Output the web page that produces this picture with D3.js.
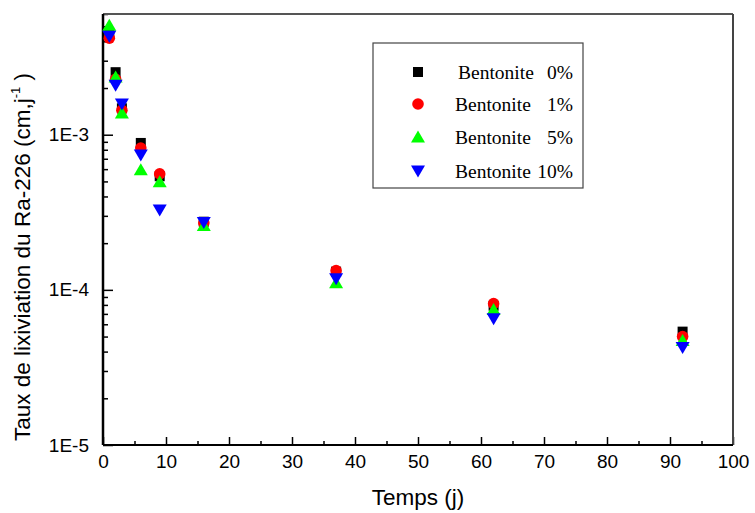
<!DOCTYPE html>
<html>
<head>
<meta charset="utf-8">
<script src="https://cdn.jsdelivr.net/npm/d3@7"></script>
<style>
  body { margin: 0; background: #fff; }
  svg { display: block; }
</style>
</head>
<body>
<script>
// sampling times (days)
const time = [1, 2, 3, 6, 9, 16, 37, 62, 92];

// leaching rate of Ra-226 (cm/j) per bentonite content
const bento0  = [4.44e-3, 2.53e-3, 1.48e-3, 8.85e-4, 5.4e-4, 2.75e-4, 1.31e-4, 7.9e-5, 5.38e-5];
const bento1  = [4.19e-3, 2.28e-3, 1.44e-3, 8.2e-4, 5.59e-4, 2.7e-4, 1.33e-4, 8.15e-5, 5.0e-5];
const bento5  = [5.07e-3, 2.35e-3, 1.38e-3, 5.93e-4, 4.96e-4, 2.6e-4, 1.11e-4, 7.46e-5, 4.71e-5];
const bento10 = [4.32e-3, 2.09e-3, 1.58e-3, 7.4e-4, 3.28e-4, 2.72e-4, 1.18e-4, 6.53e-5, 4.25e-5];

const xTicks = [0, 10, 20, 30, 40, 50, 60, 70, 80, 90, 100];
const yTicks = [1e-5, 1e-4, 1e-3];
const yTickLabels = ["1E-5", "1E-4", "1E-3"];
const legendNames = ["Bentonite", "Bentonite", "Bentonite", "Bentonite"];
const legendPct = ["0%", "1%", "5%", "10%"];

let margin = {top: 14, right: 22, bottom: 68, left: 103},
    width = 755 - margin.left - margin.right,
    height = 513 - margin.top - margin.bottom;

let svg = d3.select("body")
  .append("svg")
  .attr("width", 755)
  .attr("height", 513)
  .append("g")
  .attr("transform", "translate(" + margin.left + "," + margin.top + ")");

let x = d3.scaleLinear().domain([0, 100]).range([0, width]);
let y = d3.scaleLog().domain([1e-5, 6e-3]).range([height, 0]);

// minor ticks
let xMinor = d3.range(5, 100, 10);
let yMinor = [];
[1e-5, 1e-4, 1e-3].forEach(function(d) {
  for (let k = 2; k <= 9; k++) {
    if (d * k <= 6e-3) yMinor.push(d * k);
  }
});

svg.append("g")
  .attr("transform", "translate(0," + height + ")")
  .call(d3.axisBottom(x).tickValues(xMinor).tickSize(-4).tickFormat(""));
svg.append("g")
  .call(d3.axisLeft(y).tickValues(yMinor).tickSize(-5).tickFormat(""));

// X axis
svg.append("g")
  .attr("transform", "translate(0," + height + ")")
  .call(d3.axisBottom(x).tickValues(xTicks).tickSize(-8).tickSizeOuter(0).tickPadding(10));

// Y axis
svg.append("g")
  .call(d3.axisLeft(y).tickValues(yTicks).tickSize(-10).tickSizeOuter(0).tickPadding(14)
    .tickFormat(function(d, i) { return yTickLabels[i]; }));

svg.selectAll(".domain").remove();
svg.selectAll(".tick line").attr("stroke", "#000").attr("stroke-width", 1.5);
svg.selectAll(".tick text")
  .attr("font-family", "Liberation Sans, Arial, sans-serif")
  .attr("font-size", 19)
  .attr("fill", "#000");

// frame
svg.append("line").attr("x1", 0).attr("x2", width).attr("y1", 0).attr("y2", 0)
  .attr("stroke", "#555").attr("stroke-width", 2);
svg.append("line").attr("x1", width).attr("x2", width).attr("y1", 0).attr("y2", height)
  .attr("stroke", "#444").attr("stroke-width", 2);
svg.append("line").attr("x1", 0).attr("x2", width).attr("y1", height).attr("y2", height)
  .attr("stroke", "#000").attr("stroke-width", 2);
svg.append("line").attr("x1", 0).attr("x2", 0).attr("y1", 0).attr("y2", height)
  .attr("stroke", "#000").attr("stroke-width", 2.5);

// markers
function square(s) { return "M" + (-s/2) + "," + (-s/2) + "h" + s + "v" + s + "h" + (-s) + "Z"; }
function triUp(w, h) { return "M0," + (-h*0.55) + "L" + (w/2) + "," + (h*0.45) + "L" + (-w/2) + "," + (h*0.45) + "Z"; }
function triDown(w, h) { return "M0," + (h*0.55) + "L" + (w/2) + "," + (-h*0.45) + "L" + (-w/2) + "," + (-h*0.45) + "Z"; }

let series = [
  {values: bento0,  color: "#000000", shape: square(10)},
  {values: bento1,  color: "#ff0000", shape: null},
  {values: bento5,  color: "#00ff00", shape: triUp(14, 12)},
  {values: bento10, color: "#0000ff", shape: triDown(14, 12)}
];

series.forEach(function(s) {
  let pts = time.map(function(t, i) { return {t: t, v: s.values[i]}; });
  if (s.shape === null) {
    svg.selectAll(null)
      .data(pts)
      .enter()
      .append("circle")
      .attr("cx", function(d) { return x(d.t); })
      .attr("cy", function(d) { return y(d.v); })
      .attr("r", 5.8)
      .style("fill", s.color);
  } else {
    svg.selectAll(null)
      .data(pts)
      .enter()
      .append("path")
      .attr("d", s.shape)
      .attr("transform", function(d) { return "translate(" + x(d.t) + "," + y(d.v) + ")"; })
      .style("fill", s.color);
  }
});

// axis titles
svg.append("text")
  .attr("x", 315)
  .attr("y", 491)
  .attr("text-anchor", "middle")
  .attr("font-family", "Liberation Sans, Arial, sans-serif")
  .attr("font-size", 22.5)
  .text("Temps (j)");

let yt = svg.append("text")
  .attr("transform", "translate(-73," + 243 + ")rotate(-90)")
  .attr("text-anchor", "middle")
  .attr("font-family", "Liberation Sans, Arial, sans-serif")
  .attr("font-size", 22.5);
yt.append("tspan").text("Taux de lixiviation du Ra-226 (cm,j");
yt.append("tspan").attr("font-size", 13).attr("dy", -10).text("-1");
yt.append("tspan").attr("dy", 10).text(" )");

// legend
let lg = d3.select("svg").append("g");
lg.append("rect")
  .attr("x", 373).attr("y", 43).attr("width", 210).attr("height", 145)
  .attr("fill", "#fff").attr("stroke", "#444").attr("stroke-width", 1.2);

let rowsY = [72, 104, 137, 171];
series.forEach(function(s, i) {
  if (s.shape === null) {
    lg.append("circle").attr("cx", 418).attr("cy", rowsY[i]).attr("r", 5.8).style("fill", s.color);
  } else {
    lg.append("path").attr("d", s.shape)
      .attr("transform", "translate(418," + rowsY[i] + ")").style("fill", s.color);
  }
  lg.append("text")
    .attr("x", i === 0 ? 458 : 455).attr("y", rowsY[i] + 7)
    .attr("font-family", "Liberation Serif, Times New Roman, serif")
    .attr("font-size", 19.5)
    .text(legendNames[i]);
  lg.append("text")
    .attr("x", 573).attr("y", rowsY[i] + 7)
    .attr("text-anchor", "end")
    .attr("font-family", "Liberation Serif, Times New Roman, serif")
    .attr("font-size", 19.5)
    .text(legendPct[i]);
});
</script>
</body>
</html>
